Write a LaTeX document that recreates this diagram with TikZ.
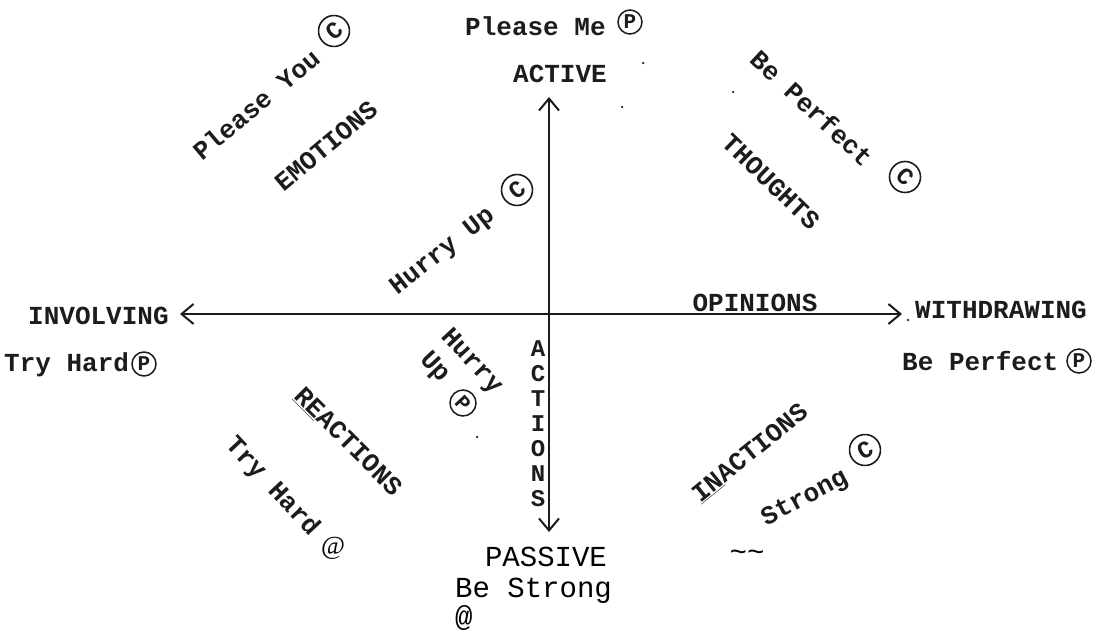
\documentclass[tikz,border=0pt]{standalone}
\usepackage{fontspec}
\newfontfamily\tw{Liberation Mono}
\newfontfamily\tms{Liberation Serif}
\usetikzlibrary{arrows.meta}
\definecolor{ink}{HTML}{1C1C1C}
\begin{document}
\begin{tikzpicture}[x=1pt,y=-1pt,
  tt/.style={font=\tw\bfseries\fontsize{26}{28}\selectfont, inner sep=0pt, text=ink},
  ocr/.style={font=\tw\fontsize{29}{30}\selectfont, inner sep=0pt, text=black},
  circC/.style={circle, draw=ink, line width=1.6pt, inner sep=0pt, minimum size=31pt,
    font=\tw\bfseries\fontsize{24}{24}\selectfont, text=ink},
  circP/.style={circle, draw=ink, line width=1.5pt, inner sep=0pt, minimum size=24pt,
    font=\tw\bfseries\fontsize{21}{21}\selectfont, text=ink},
  axis/.style={draw=ink, line width=2pt},
  speck/.style={fill=ink, circle, inner sep=0pt, minimum size=2.5pt}]
\useasboundingbox (0,0) rectangle (1101,631);
\fill[white] (0,0) rectangle (1101,631);

% axes
\coordinate (top) at (549,97);
\coordinate (bot) at (549,532);
\coordinate (lft) at (180,314);
\coordinate (rgt) at (902,314);
\draw[axis, {Straight Barb[length=12pt,width=20pt]}-{Straight Barb[length=12pt,width=20pt]}] (lft) -- (rgt);
\draw[axis, {Straight Barb[length=12pt,width=20pt]}-{Straight Barb[length=12pt,width=20pt]}] (top) -- (bot);

% top
\node[tt, anchor=base west] (pleaseme) at (465,36) {Please Me};
\node[circP] (pmP) at (630,22) {P};
\node[tt, anchor=base] (active) at (560,83) {ACTIVE};

% left / right
\node[tt, anchor=base west] (involving) at (28,324) {INVOLVING};
\node[tt, anchor=base west] (tryhard) at (4,371) {Try Hard};
\node[circP] (thP) at (144,364) {P};
\node[tt, anchor=base west] (withdrawing) at (915,318) {WITHDRAWING};
\node[tt, anchor=base west] (beperfect) at (902,370) {Be Perfect};
\node[circP] (bpP) at (1079,361) {P};
\node[tt, anchor=base] (opinions) at (755,312) {OPINIONS};

% upper left
\node[tt, rotate=40] (pleaseyou) at (256,104) {Please You};
\node[circC, rotate=40] (pyC) at (334,31) {C};
\node[tt, rotate=40] (emotions) at (326,146) {EMOTIONS};
\node[tt, rotate=38] (hurryup) at (443,252) {Hurry Up};
\node[circC, rotate=38] (huC) at (517,190) {C};

% upper right
\node[tt, rotate=-43] (beperfectc) at (812,108) {Be Perfect};
\node[circC, rotate=-43] (bpC) at (905,177) {C};
\node[tt, rotate=-44] (thoughts) at (771,182) {THOUGHTS};

% lower middle
\node[tt, rotate=-47] (hurry2) at (471,362) {Hurry};
\node[tt, rotate=-47] (up2) at (434,368) {Up};
\node[circP, minimum size=26pt, rotate=-47] (huP) at (463,403) {P};
\node[tt, align=center, font=\tw\bfseries\fontsize{24}{25}\selectfont] (actions) at (538,424) {A\\C\\T\\I\\O\\N\\S};

% lower left
\node[tt, rotate=-45] (reactions) at (348,442) {\underline{RE}ACTIONS};
\node[tt, rotate=-47] (tryhard2) at (272,487) {Try Hard};
\node[font=\tms\fontsize{26}{26}\selectfont, inner sep=0pt] (at1) at (333,548) {@};

% lower right
\node[tt, rotate=39] (inactions) at (750,453) {\underline{IN}ACTIONS};
\begin{scope}
\clip (700,400) rectangle (900,531);
\node[tt, rotate=28] (strong) at (805,499) {Strong};
\end{scope}
\node[circC, rotate=28] (stC) at (865,450) {C};

% bottom typed text
\node[ocr] (passive) at (546,557) {PASSIVE};
\node[ocr, anchor=west] (bestrong) at (455,591) {Be Strong};
\node[ocr, anchor=west] (at2) at (455,618) {@};
\node[ocr] (tilde) at (747,556) {\char`\~\char`\~};

% specks
\node[speck] at (643,63) {};
\node[speck] at (622,107) {};
\node[speck] at (733,92) {};
\node[speck] at (908,320) {};
\node[speck] at (477,437) {};
\end{tikzpicture}
\end{document}
